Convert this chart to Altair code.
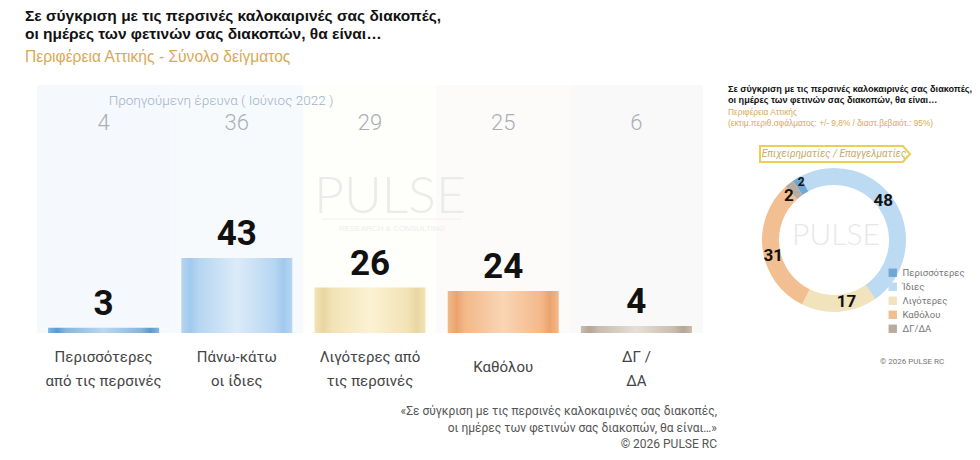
import altair as alt
import pandas as pd

# --- data -------------------------------------------------------------
categories = ["Περισσότερες\nαπό τις περσινές", "Πάνω-κάτω\nοι ίδιες",
              "Λιγότερες από\nτις περσινές", "Καθόλου", "ΔΓ /\nΔΑ"]
current = [3, 43, 26, 24, 4]
previous = [4, 36, 29, 25, 6]

donut_cats = ["Περισσότερες", "Ίδιες", "Λιγότερες", "Καθόλου", "ΔΓ/ΔΑ"]
donut_vals = [2, 48, 17, 31, 2]

# --- styling ----------------------------------------------------------
NARROW = "Roboto, 'DejaVu Sans Condensed', sans-serif"
SANS = "'Liberation Sans', Arial, sans-serif"
TAN = "#D7A956"

bar_tones = [  # (edge, mid, highlight)
    ("#5F98C8", "#86B6DC", "#BCD8EF"),
    ("#A2C9EC", "#B6D6F2", "#DCEBF8"),
    ("#E9D7A2", "#F2E3B6", "#FBF2D4"),
    ("#EBA36E", "#F3B98A", "#F9D5B5"),
    ("#B5A695", "#C9BCAF", "#E7DED6"),
]
col_bg = ["#F5F8FC", "#F7FAFD", "#FEFEFB", "#FDFBF9", "#F9F9F9"]
donut_colors = ["#6FA7D7", "#BCDAF2", "#F1E3BC", "#F2BF92", "#B9AC9F"]

bars_df = pd.DataFrame({"cat": categories, "value": current,
                        "prev": previous, "bg": col_bg})
bars_df["lines"] = bars_df["cat"].str.count("\n") + 1
donut_df = pd.DataFrame({"cat": donut_cats, "value": donut_vals,
                         "order": list(range(len(donut_cats)))})

xscale = alt.Scale(domain=categories, range=[37, 703], paddingInner=0, paddingOuter=0)
yscale = alt.Scale(domain=[0, 142], range=[333, 85], nice=False, zero=True)
X = alt.X("cat:N", scale=xscale, axis=None, sort=categories)
Y = alt.Y("value:Q", scale=yscale, axis=None)


def text_layer(txt, x, y, **kw):
    return alt.Chart(alt.Data(values=[{}])).mark_text(**kw).encode(
        x=alt.value(x), y=alt.value(y), text=alt.value(txt))


layers = []

# column backgrounds
layers.append(
    alt.Chart(bars_df).mark_rect().encode(
        x=X, y=alt.value(85), y2=alt.value(333),
        color=alt.Color("bg:N", scale=None, legend=None))
)

# faint watermark
layers.append(text_layer("PULSE", 390, 197, font="Lato", fontWeight=300,
                         fontSize=52, color="#EBEBEB", align="center", baseline="middle"))
layers.append(
    alt.Chart(alt.Data(values=[{}])).mark_rule(color="#F0F0F0", strokeWidth=1).encode(
        x=alt.value(322), x2=alt.value(462), y=alt.value(219))
)
layers.append(text_layer("RESEARCH & CONSULTING", 392, 229, font=SANS, fontSize=8,
                         color="#EDEDED", align="center", baseline="middle"))

# bars with a cylindrical gradient
for cat, (edge, mid, hi) in zip(categories, bar_tones):
    grad = alt.LinearGradient(
        gradient="linear", x1=0, x2=1, y1=0, y2=0,
        stops=[alt.GradientStop(offset=0, color=mid),
               alt.GradientStop(offset=0.08, color=edge),
               alt.GradientStop(offset=0.16, color=mid),
               alt.GradientStop(offset=0.5, color=hi),
               alt.GradientStop(offset=0.84, color=mid),
               alt.GradientStop(offset=0.92, color=edge),
               alt.GradientStop(offset=1, color=mid)])
    layers.append(
        alt.Chart(bars_df).transform_filter(alt.datum.cat == cat)
        .mark_bar(width=111, color=grad).encode(x=X, y=Y, y2=alt.datum(0))
    )

# current values
layers.append(
    alt.Chart(bars_df).mark_text(font=NARROW, fontWeight="bold", fontSize=35,
                                 color="#111111", baseline="alphabetic", dy=-13)
    .encode(x=X, y=Y, text="value:Q")
)

# previous survey values
layers.append(
    alt.Chart(bars_df).mark_text(font=NARROW, fontWeight=300, fontSize=22,
                                 color="#A9AFB6", baseline="alphabetic")
    .encode(x=X, y=alt.value(130), text="prev:Q")
)
layers.append(text_layer("Προηγούμενη έρευνα ( Ιούνιος 2022 )", 221, 101, font=NARROW,
                         fontWeight=300, fontSize=13.5, color="#9FB3CA",
                         align="center", baseline="middle"))

# category labels (two-line and one-line labels placed separately)
cat_text = alt.Chart(bars_df).mark_text(font=NARROW, fontSize=15, color="#444444",
                                        baseline="middle", lineBreak="\n", lineHeight=24)
layers.append(cat_text.transform_filter(alt.datum.lines == 2)
              .encode(x=X, y=alt.value(357), text="cat:N"))
layers.append(cat_text.transform_filter(alt.datum.lines == 1)
              .encode(x=X, y=alt.value(367), text="cat:N"))

# titles
layers.append(text_layer("Σε σύγκριση με τις περσινές καλοκαιρινές σας διακοπές,\n"
                         "οι ημέρες των φετινών σας διακοπών, θα είναι…",
                         25, 9, font=SANS, fontWeight="bold", fontSize=15.5,
                         color="#111111", align="left", baseline="top",
                         lineBreak="\n", lineHeight=18))
layers.append(text_layer("Περιφέρεια Αττικής - Σύνολο δείγματος", 25, 57, font=SANS,
                         fontSize=15.6, color=TAN, align="left", baseline="middle"))

# footer
layers.append(text_layer("«Σε σύγκριση με τις περσινές καλοκαιρινές σας διακοπές,\n"
                         "οι ημέρες των φετινών σας διακοπών, θα είναι…»\n"
                         "©  2026  PULSE RC",
                         717, 406, font=NARROW, fontSize=12, color="#555555",
                         align="right", baseline="top", lineBreak="\n", lineHeight=16.5))

# --- side panel ---------------------------------------------------------
layers.append(text_layer("Σε σύγκριση με τις περσινές καλοκαιρινές σας διακοπές,\n"
                         "οι ημέρες των φετινών σας διακοπών, θα είναι…",
                         728, 85, font=SANS, fontWeight="bold", fontSize=9.1,
                         color="#111111", align="left", baseline="top",
                         lineBreak="\n", lineHeight=11))
layers.append(text_layer("Περιφέρεια Αττικής\n"
                         "(εκτιμ.περιθ.σφάλματος: +/- 9,8% / διαστ.βεβαιότ.: 95%)",
                         728, 108, font=SANS, fontSize=8.3, color=TAN, align="left",
                         baseline="top", lineBreak="\n", lineHeight=11))

# banner
layers.append(
    alt.Chart(alt.Data(values=[{}])).mark_point(
        shape="M -9.25 -1 L 8.6 -1 L 9.5 0 L 8.6 1 L -9.25 1 Z", size=256,
        filled=True, fill="#FFFFFF", stroke="#EDCD52", strokeWidth=2, opacity=1)
    .encode(x=alt.value(834), y=alt.value(154))
)
layers.append(text_layer("Επιχειρηματίες / Επαγγελματίες", 834, 154, font=NARROW,
                         fontStyle="italic", fontSize=10, color="#C9A962",
                         align="center", baseline="middle"))

# donut
theta = alt.Theta("value:Q", stack=True,
                  scale=alt.Scale(range=[-0.61, 6.2832 - 0.61]))
layers.append(
    alt.Chart(donut_df).mark_arc(outerRadius=72, innerRadius=55).encode(
        x=alt.value(834), y=alt.value(240), theta=theta,
        order=alt.Order("order:Q"),
        color=alt.Color("cat:N", sort=donut_cats,
                        scale=alt.Scale(domain=donut_cats, range=donut_colors),
                        legend=alt.Legend(title=None, orient="none", legendX=888,
                                          legendY=268, symbolType="square",
                                          symbolSize=70, symbolStrokeWidth=0,
                                          labelFont=NARROW, labelFontSize=9.5,
                                          labelColor="#777777", rowPadding=3,
                                          labelOffset=5)))
)
layers.append(text_layer("PULSE", 836, 236, font="Lato", fontWeight=300,
                         fontSize=30, color="#E8E8E8", align="center", baseline="middle"))

donut_text = alt.Chart(donut_df).encode(
    x=alt.value(834), y=alt.value(240), theta=theta, order=alt.Order("order:Q"),
    text="value:Q")
layers.append(
    donut_text.transform_filter(alt.datum.cat != "Περισσότερες")
    .mark_text(radius=63, font=NARROW, fontWeight="bold", fontSize=17,
               color="#111111", baseline="middle")
)
layers.append(
    donut_text.transform_filter(alt.datum.cat == "Περισσότερες")
    .mark_text(radius=63, font=NARROW, fontWeight="bold", fontSize=12,
               color="#111111", baseline="middle", dy=-4)
)

layers.append(text_layer("©  2026  PULSE RC", 912, 362, font=NARROW, fontSize=8,
                         color="#777777", align="center", baseline="middle"))

chart = alt.layer(*layers).resolve_scale(color="independent").properties(
    width=980, height=460, padding=0, autosize=alt.AutoSizeParams(type="none"),
    background="#FFFFFF"
).configure_view(stroke=None)

chart.save("out.html", embed_options={"renderer": "svg", "actions": False})
